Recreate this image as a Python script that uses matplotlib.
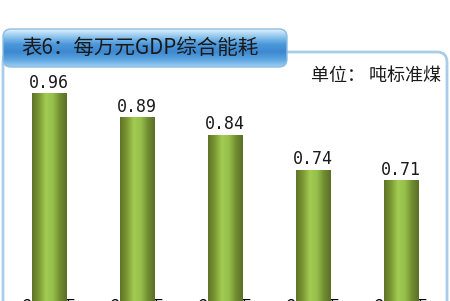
import numpy as np
import matplotlib.pyplot as plt
from matplotlib.colors import LinearSegmentedColormap
from matplotlib.patches import FancyBboxPatch

plt.rcParams['font.family'] = ['Noto Sans CJK SC', 'DejaVu Sans']

yrs = ['2005年', '2006年', '2007年', '2008年', '2009年']
vals = [0.96, 0.89, 0.84, 0.74, 0.71]
ttl = '表6：每万元GDP综合能耗'
unit = '单位： 吨标准煤'

W, H = 450, 301
fig = plt.figure(figsize=(W / 100, H / 100), dpi=100)

# backdrop drawn in pixel coords
bg = fig.add_axes([0, 0, 1, 1])
bg.axis('off')

fr = FancyBboxPatch((3, 52), 444, 290, boxstyle='round,pad=0,rounding_size=10',
                    fc='white', ec='#a8cde8', lw=2)
bg.add_patch(fr)

tb = FancyBboxPatch((3, 29), 284, 38, boxstyle='round,pad=0,rounding_size=8',
                    fc='none', ec='#8dbde2', lw=1, zorder=3)
bg.add_patch(tb)
g = np.linspace(0, 1, 64).reshape(-1, 1)
bcm = LinearSegmentedColormap.from_list('b', ['#e2f1fc', '#8cc4ee', '#4c98da', '#3d88d0', '#5aa4e0', '#9ccdf2'])
im = bg.imshow(g, extent=(3, 287, 67, 29), cmap=bcm, aspect='auto', zorder=2)
im.set_clip_path(tb)
bg.text(140, 48, ttl, ha='center', va='center', fontsize=14.8, color='#1a1a1a', zorder=4)
bg.text(441, 76, unit, ha='right', va='center', fontsize=13, color='#1a1a1a')
bg.set_xlim(0, W)
bg.set_ylim(H, 0)

ax = fig.add_axes([5 / W, 6 / H, 440 / W, 215 / H])
ax.set_facecolor('none')
x = np.arange(len(vals))
bars = ax.bar(x, vals, width=0.39, color='none')

gcm = LinearSegmentedColormap.from_list('gr', ['#5e7428', '#7d9a34', '#a2cc52', '#96c04a', '#728e32', '#5a6f26'])
h = np.linspace(0, 1, 64).reshape(1, -1)
for b in bars:
    bi = ax.imshow(h, extent=(b.get_x(), b.get_x() + b.get_width(), 0, b.get_height()),
                   cmap=gcm, aspect='auto', zorder=2)
    bi.set_clip_path(b)

for i, v in enumerate(vals):
    ax.annotate(f'{v:.2f}', (i, v), xytext=(0, 1), textcoords='offset points',
                ha='center', va='bottom', family='DejaVu Sans Mono', fontsize=12, color='#1a1a1a')

ax.set_xlim(-0.5, len(vals) - 0.5)
ax.set_ylim(0.38, 0.997)
ax.set_xticks(x)
ax.set_xticklabels(yrs, fontsize=12)
ax.tick_params(axis='x', length=0, pad=2)
ax.set_yticks([])
for s in ax.spines.values():
    s.set_visible(False)

fig.savefig('out.png', dpi=100)
